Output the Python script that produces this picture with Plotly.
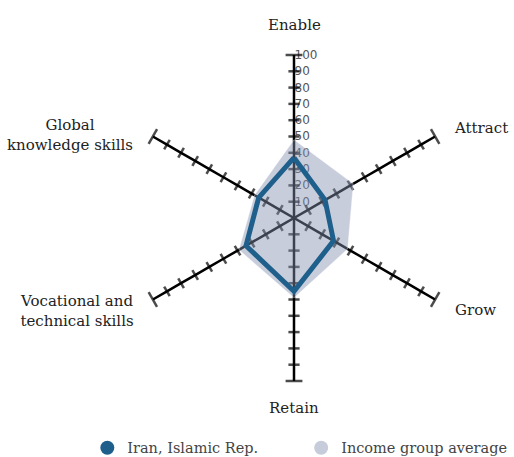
import plotly.graph_objects as go

categorias = ["Enable", "Attract", "Grow", "Retain",
              "Vocational and technical skills", "Global knowledge skills"]
iran = [37, 22, 28, 45, 34, 25]
promedio = [48, 42, 38, 49, 39, 28]
ticks_radiales = [10, 20, 30, 40, 50, 60, 70, 80, 90, 100]

AZUL = "#1f5f8b"
GRIS = "#c7ccdb"
FUENTE = "DejaVu Serif"

fig = go.Figure()

# ejes dibujados a mano: una línea por categoría con marcas cada 10
for i, cat in enumerate(categorias):
    fig.add_trace(go.Scatterpolar(
        r=[0] + ticks_radiales,
        theta=[cat] * (len(ticks_radiales) + 1),
        mode="lines+markers",
        line=dict(color="black", width=2.5),
        marker=dict(symbol="line-ew", size=[0] + [8] * 9 + [12], angle=60 * i,
                    line=dict(color="black", width=2.5)),
        hoverinfo="skip", showlegend=False,
    ))

fig.add_trace(go.Scatterpolar(
    r=promedio + promedio[:1],
    theta=categorias + categorias[:1],
    mode="lines", fill="toself",
    fillcolor="rgba(133,144,178,0.45)",
    line=dict(color="rgba(255,255,255,0.35)", width=1),
    name="Income group average", showlegend=False,
    hovertemplate="%{theta}: %{r}<extra>Income group average</extra>",
))
fig.add_trace(go.Scatterpolar(
    r=iran + iran[:1],
    theta=categorias + categorias[:1],
    mode="lines",
    line=dict(color=AZUL, width=5),
    name="Iran, Islamic Rep.", showlegend=False,
    hovertemplate="%{theta}: %{r}<extra>Iran, Islamic Rep.</extra>",
))

# entradas de leyenda con círculo, cada una en su propia leyenda
for nombre, color, ley in [("Iran, Islamic Rep.", AZUL, "legend"),
                           ("Income group average", GRIS, "legend2")]:
    fig.add_trace(go.Scatterpolar(
        r=[None], theta=[None], mode="markers",
        marker=dict(size=14, color=color), name=nombre, legend=ley,
    ))

# etiquetas de categorías
etiquetas = [
    ("Enable", 0.5, 1.092, "center"),
    ("Attract", 0.985, 0.776, "left"),
    ("Grow", 0.988, 0.218, "left"),
    ("Retain", 0.5, -0.083, "center"),
    ("Vocational and<br>technical skills", 0.015, 0.215, "right"),
    ("Global<br>knowledge skills", 0.012, 0.755, "right"),
]
for texto, x, y, anc in etiquetas:
    fig.add_annotation(text=texto, x=x, y=y, xref="paper", yref="paper",
                       xanchor=anc, yanchor="middle", showarrow=False, align="center",
                       font=dict(family=FUENTE, size=15, color="#222"))

ley_comun = dict(orientation="h", y=-0.205, xanchor="left", yanchor="middle",
                 font=dict(family=FUENTE, size=14.5, color="#444"), itemwidth=30,
                 bgcolor="rgba(0,0,0,0)")

fig.update_layout(
    width=514, height=457,
    paper_bgcolor="white",
    margin=dict(l=131, r=57, t=55, b=76, autoexpand=False),
    polar=dict(
        bgcolor="rgba(0,0,0,0)",
        angularaxis=dict(categoryorder="array", categoryarray=categorias,
                         rotation=90, direction="clockwise",
                         showgrid=False, showline=False, showticklabels=False, ticks=""),
        radialaxis=dict(range=[0, 100], angle=90, tickangle=90, side="clockwise",
                        tickvals=ticks_radiales, showgrid=False, showline=False,
                        ticks="", layer="below traces", color="#555",
                        tickfont=dict(family="DejaVu Sans", size=12, color="#555")),
    ),
    legend=dict(x=-0.134, **ley_comun),
    legend2=dict(x=0.522, **ley_comun),
    hovermode="closest",
)

# sin margen en el body para que la figura ocupe la ventana entera
fig.write_html("out.html", config={"displayModeBar": False},
               post_script="document.body.style.margin='0';document.body.style.overflow='hidden';")
